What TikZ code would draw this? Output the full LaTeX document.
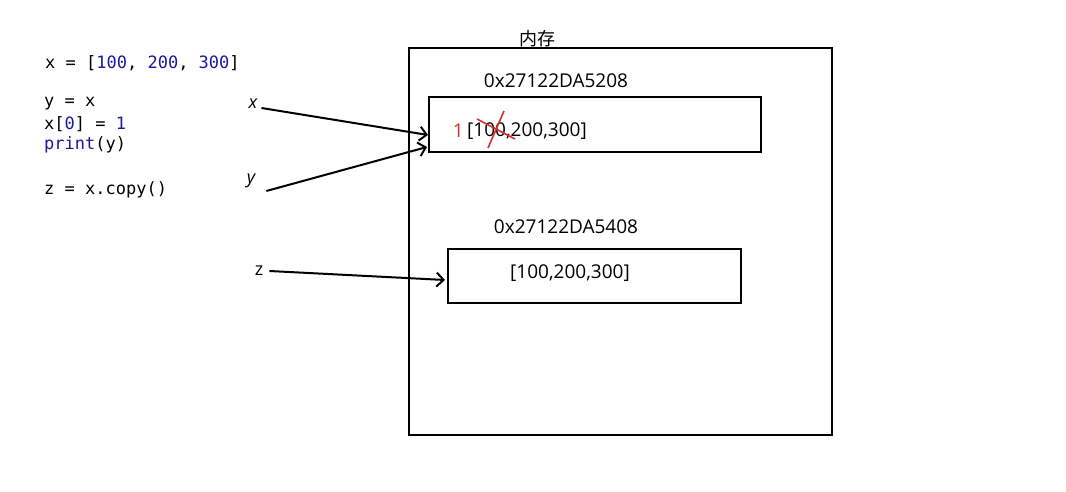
\documentclass[tikz,border=0pt]{standalone}
\usepackage{fontspec}
\setmainfont{Open Sans}
\setmonofont{DejaVu Sans Mono}
\newfontfamily\cjk{Noto Sans CJK SC}
\usetikzlibrary{arrows.meta}
\definecolor{codeblue}{RGB}{25,25,160}
\definecolor{markred}{RGB}{215,45,45}
\tikzset{
  codeline/.style={anchor=west, inner sep=0pt, font=\ttfamily\fontsize{17}{18}\selectfont},
  memtext/.style={inner sep=0pt, font=\fontsize{19}{20}\selectfont},
  varlabel/.style={inner sep=0pt, font=\fontsize{18}{20}\selectfont},
  box/.style={draw, line width=2pt},
  ptr/.style={line width=2pt, -{Straight Barb[length=7pt,width=14pt,line width=2pt]}},
  cross/.style={draw=markred, line width=1.6pt}
}
\begin{document}
\begin{tikzpicture}[x=1pt,y=-1pt]
\useasboundingbox (0,0) rectangle (1066,492);
% code
\node[codeline] (c1) at (45,63) {x = [\textcolor{codeblue}{100}, \textcolor{codeblue}{200}, \textcolor{codeblue}{300}]};
\node[codeline] (c2) at (44,104) {y = x};
\node[codeline] (c3) at (44,124) {x[\textcolor{codeblue}{0}] = \textcolor{codeblue}{1}};
\node[codeline] (c4) at (44,145) {\textcolor{codeblue}{print}(y)};
\node[codeline] (c5) at (44,190) {z = x.copy()};
% memory
\draw[box] (409,48) rectangle (832,435);
\node[inner sep=0pt, font=\cjk\fontsize{18}{20}\selectfont] (mem) at (537,39) {内存};
\node[box, minimum width=332pt, minimum height=55pt, inner sep=0pt] (box1) at (595,124.5) {};
\node[box, minimum width=293pt, minimum height=54pt, inner sep=0pt] (box2) at (594.5,276) {};
\node[memtext] (a1) at (556,81) {0x27122DA5208};
\node[memtext] (a2) at (566,227) {0x27122DA5408};
\node[memtext, anchor=west] (v1) at (467,131) {[100,200,300]};
\node[memtext, text=markred, anchor=east] (one) at (464,131) {1};
\node[memtext] (v2) at (570,273) {[100,200,300]};
\draw[cross] (477,119) -- (515,139);
\draw[cross] (504,111) -- (488,148);
% variables
\node[varlabel, font=\itshape\fontsize{18}{20}\selectfont] (lx) at (253,104) {x};
\node[varlabel, font=\itshape\fontsize{18}{20}\selectfont] (ly) at (251,181) {y};
\node[varlabel] (lz) at (259,271) {z};
\coordinate (tx) at (428,135);
\coordinate (ty) at (427,147);
\coordinate (tz) at (445,280);
\draw[ptr] ([xshift=4pt,yshift=-4pt]lx.east) -- (tx);
\draw[ptr] ([xshift=11pt,yshift=-10pt]ly.east) -- (ty);
\draw[ptr] ([xshift=6pt]lz.east) -- (tz);
\end{tikzpicture}
\end{document}
